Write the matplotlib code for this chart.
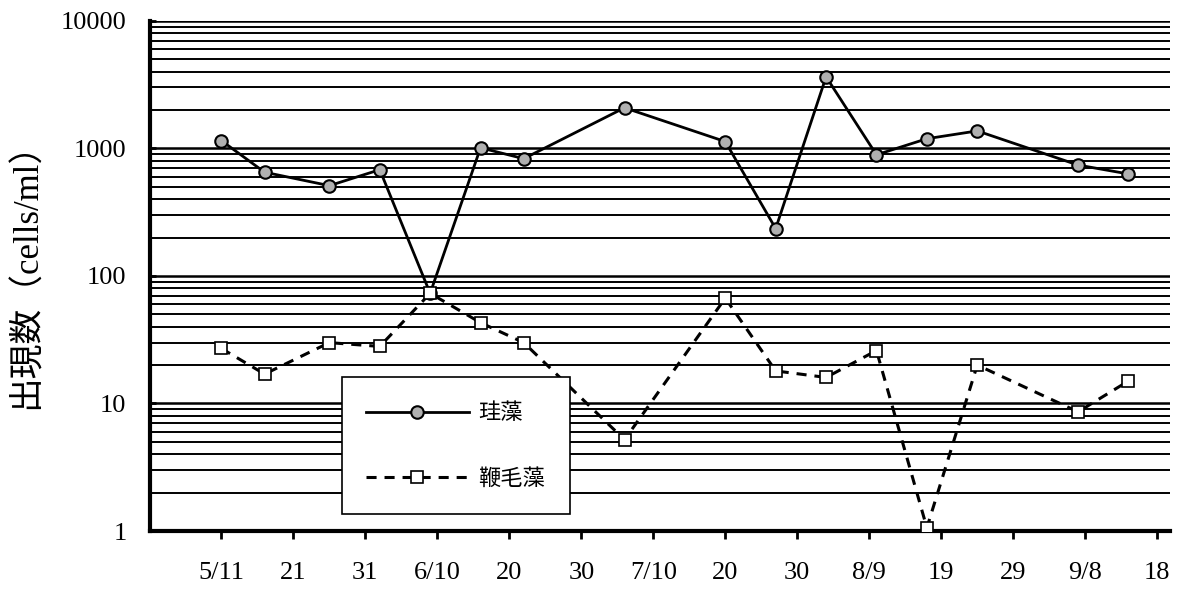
import matplotlib
matplotlib.use("Agg")
import matplotlib.pyplot as plt
from matplotlib.ticker import LogLocator, NullFormatter

plt.rcParams['font.family'] = ['Liberation Serif', 'Noto Sans CJK JP']

# 5/11 を 0 とした経過日数
days = [0, 6, 15, 22, 29, 36, 42, 56, 70, 77, 84, 91, 98, 105, 119, 126]
diatom = [1150, 650, 510, 680, 73, 1010, 830, 2080, 1130, 235, 3640, 890, 1190, 1370, 740, 630]
flagellate = [27, 17, 30, 28, 73, 43, 30, 5.2, 67, 18, 16, 26, 1.06, 20, 8.6, 15]

tick_days = [0, 10, 20, 30, 40, 50, 60, 70, 80, 90, 100, 110, 120, 130]
tick_labels = ['5/11', '21', '31', '6/10', '20', '30', '7/10', '20', '30',
               '8/9', '19', '29', '9/8', '18']

fig = plt.figure(figsize=(11.82, 5.94), dpi=100)
ax = fig.add_axes([0.127, 0.106, 0.863, 0.859])

ax.plot(days, diatom, '-', color='black', lw=2, marker='o', ms=9,
        mfc='#b0b0b0', mec='black', mew=1.5, label='珪藻', zorder=3)
ax.plot(days, flagellate, '--', color='black', lw=2.2, dashes=(3.3, 2.6), marker='s', ms=9,
        mfc='white', mec='black', mew=1.2, label='鞭毛藻', zorder=3)

ax.set_yscale('log')
ax.set_ylim(1, 10000)
ax.set_xlim(-9.9, 131.8)
ax.yaxis.set_minor_locator(LogLocator(base=10, subs=range(2, 10), numticks=50))
ax.yaxis.set_minor_formatter(NullFormatter())
ax.set_yticks([1, 10, 100, 1000, 10000])
ax.set_yticklabels(['1', '10', '100', '1000', '10000'])
ax.grid(axis='y', which='major', color='black', lw=1.8)
ax.grid(axis='y', which='minor', color='black', lw=1.4)
ax.set_xticks(tick_days)
ax.set_xticklabels(tick_labels)

for s in ['top', 'right']:
    ax.spines[s].set_visible(False)
for s in ['left', 'bottom']:
    ax.spines[s].set_linewidth(3)

ax.tick_params(axis='x', direction='out', length=6, width=2, labelsize=19, pad=16)
ax.tick_params(axis='y', which='major', direction='in', length=4, width=2, labelsize=19, pad=17)
ax.tick_params(axis='y', which='minor', length=0)

leg = ax.legend(loc='upper left', bbox_to_anchor=(0.188, 0.302), borderaxespad=0,
                handlelength=4.6, handletextpad=0.45, borderpad=1.1, labelspacing=1.9,
                frameon=True, fancybox=False, edgecolor='black', framealpha=1,
                prop={'family': ['Noto Sans CJK JP'], 'size': 16})
leg.get_frame().set_linewidth(1.2)
leg.set_zorder(5)

fig.text(0.023, 0.55, '出現数（cells/ml）', rotation=90, ha='center', va='center',
         fontsize=25, family=['Liberation Serif', 'Noto Sans CJK JP'])

fig.savefig('out.png', dpi=100)
